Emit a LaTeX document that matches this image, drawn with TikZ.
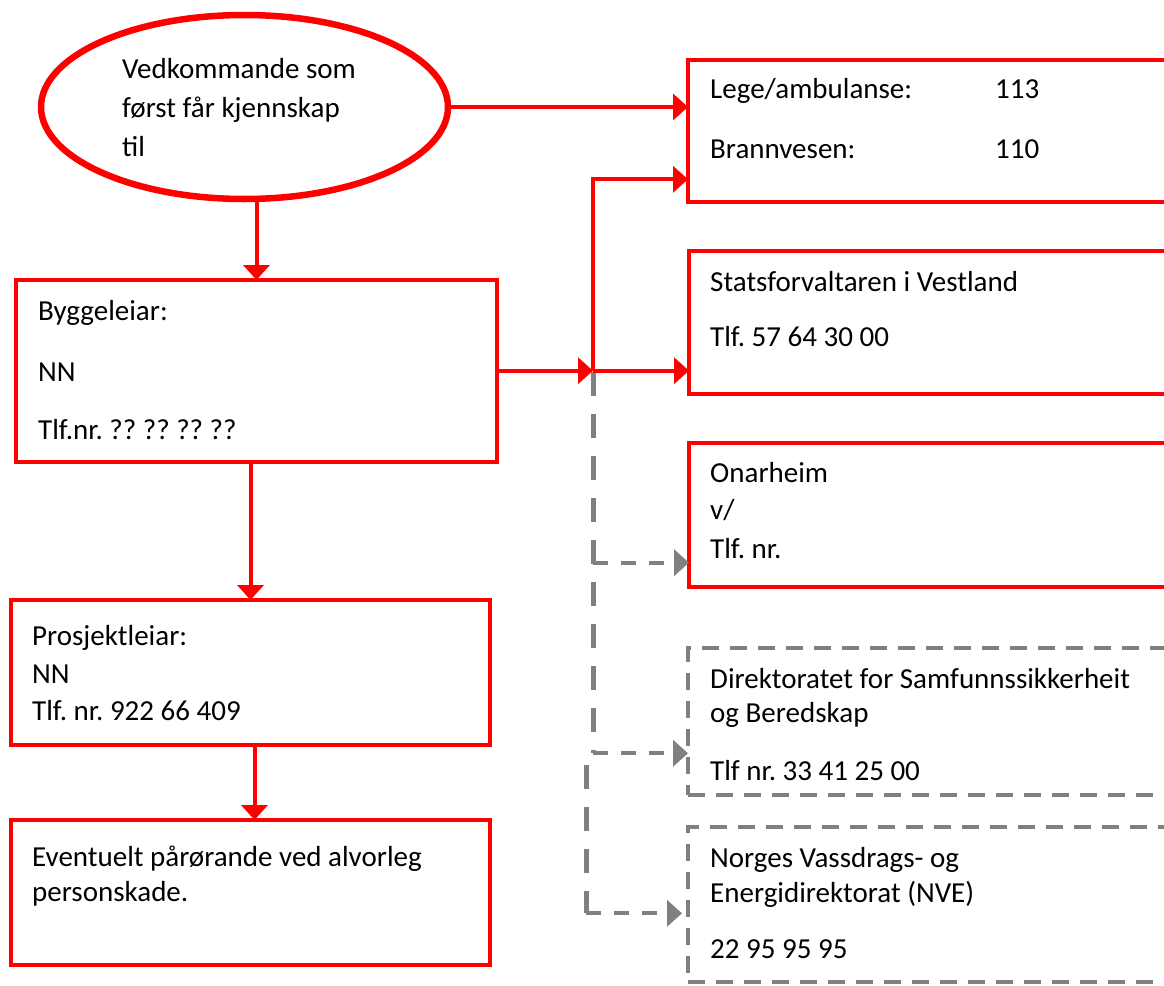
\documentclass[tikz,border=0pt]{standalone}
\usepackage{fontspec}
\setmainfont{Carlito}
\usetikzlibrary{arrows.meta,shapes.geometric}
\frenchspacing
\begin{document}
\frenchspacing
\begin{tikzpicture}[x=1pt,y=-1pt,
  redline/.style={draw=red, line width=4pt},
  gvert/.style={draw=gray, line width=5pt, dash pattern=on 24pt off 18pt},
  ghor/.style={draw=gray, line width=4.2pt, dash pattern=on 15pt off 13pt},
  redbox/.style={rectangle, draw=red, line width=4pt, inner sep=0pt, outer sep=0pt, anchor=north west},
  graybox/.style={rectangle, draw=gray, line width=4.2pt, dash pattern=on 17pt off 11pt, inner sep=0pt, outer sep=0pt, anchor=north west},
  txt/.style={anchor=base west, inner sep=0pt, font=\fontsize{29}{35}\selectfont},
  arr/.style={-{Triangle[length=15pt,width=26pt]}},
]
\useasboundingbox (0,0) rectangle (1164,985);
\clip (0,0) rectangle (1164,985);

% shapes
\node[ellipse, draw=red, line width=6.5pt, minimum width=407pt, minimum height=184pt, inner sep=0pt] (start) at (244.5,107) {};
\node[redbox, minimum width=481pt, minimum height=182pt] (bygg) at (16,280) {};
\node[redbox, minimum width=479pt, minimum height=145pt] (prosj) at (11,600) {};
\node[redbox, minimum width=479pt, minimum height=145pt] (event) at (11,820) {};
\node[redbox, minimum width=600pt, minimum height=142.5pt] (lege) at (688,59.5) {};
\node[redbox, minimum width=600pt, minimum height=143pt] (stats) at (689,251) {};
\node[redbox, minimum width=600pt, minimum height=144pt] (onar) at (689,443) {};
\node[graybox, minimum width=600pt, minimum height=147pt] (dir) at (688,648) {};
\node[graybox, minimum width=600pt, minimum height=155pt] (nve) at (688,827) {};

% texts
\node[txt] (t1) at (122,78) {Vedkommande som};
\node[txt] (t2) at (122,117) {først får kjennskap};
\node[txt] (t3) at (122,156) {til};

\node[txt] (b1) at (38,320) {Byggeleiar:};
\node[txt] (b2) at (38,381) {NN};
\node[txt] (b3) at (38,439) {Tlf.nr. ?? ?? ?? ??};

\node[txt] (p1) at (32,645) {Prosjektleiar:};
\node[txt] (p2) at (32,683) {NN};
\node[txt] (p3) at (32,720) {Tlf. nr. 922 66 409};

\node[txt] (e1) at (32,866) {Eventuelt pårørande ved alvorleg};
\node[txt] (e2) at (32,901) {personskade.};

\node[txt] (l1) at (710,98) {Lege/ambulanse:};
\node[txt] (l2) at (995,98) {113};
\node[txt] (l3) at (710,158) {Brannvesen:};
\node[txt] (l4) at (995,158) {110};

\node[txt] (s1) at (710,291) {Statsforvaltaren i Vestland};
\node[txt] (s2) at (710,346) {Tlf. 57 64 30 00};

\node[txt] (o1) at (710,482) {Onarheim};
\node[txt] (o2) at (710,519) {v/};
\node[txt] (o3) at (710,558) {Tlf. nr.};

\node[txt] (d1) at (710,688) {Direktoratet for Samfunnssikkerheit};
\node[txt] (d2) at (710,722) {og Beredskap};
\node[txt] (d3) at (710,780) {Tlf nr. 33 41 25 00};

\node[txt] (n1) at (710,867) {Norges Vassdrags- og};
\node[txt] (n2) at (710,902) {Energidirektorat (NVE)};
\node[txt] (n3) at (710,958) {22 95 95 95};

% junction coordinates
\coordinate (j) at (593,370.7);
\coordinate (g1) at (593,372);
\coordinate (ga) at (593,562.7);
\coordinate (gb) at (593,753.3);
\coordinate (g2) at (586,765);
\coordinate (gc) at (586,913.3);
\coordinate (gcend) at (682,913.3);
\coordinate (lg) at (593,179.3);

% gray dashed connectors
\draw[gvert] (g1) -- (gb);
\draw[ghor,arr] (ga) -- (onar.west |- ga);
\draw[ghor,arr] (gb) -- (dir.west |- gb);
\draw[gvert] (g2) -- (gc);
\draw[ghor,arr] (gc) -- (gcend);

% red connectors
\draw[redline,arr] (start.east) -- (lege.west |- start.east);
\draw[redline,arr] (start.south -| bygg.north) -- (bygg.north);
\draw[redline,arr] (bygg.south -| prosj.north) -- (prosj.north);
\draw[redline,arr] ([xshift=4pt]prosj.south) -- ([xshift=4pt]event.north);
\draw[redline,arr] (bygg.east |- j) -- (j);
\draw[redline,arr] (j) -- (stats.west |- j);
\draw[redline,arr] (j) -- (lg) -- (lege.west |- lg);
\end{tikzpicture}
\end{document}
